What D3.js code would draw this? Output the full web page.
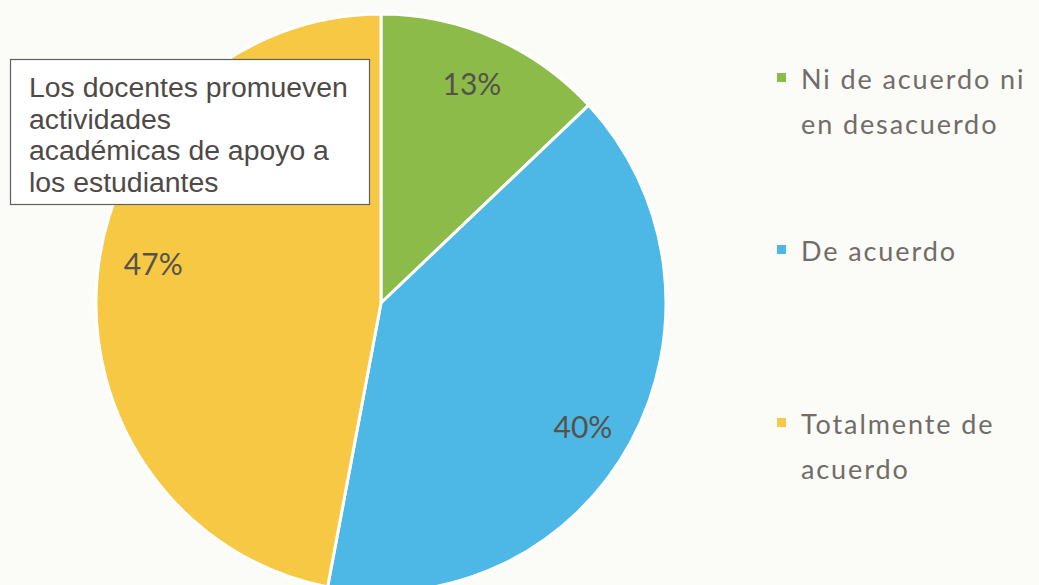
<!DOCTYPE html>
<html>
<head>
<meta charset="utf-8">
<script src="https://cdn.jsdelivr.net/npm/d3@7"></script>
<style>
  html, body { margin: 0; padding: 0; background: #fbfbf8; }
  svg { display: block; }
</style>
</head>
<body>
<svg id="chart" width="1039" height="585"></svg>
<script>
// Survey response shares
const categories = ["Ni de acuerdo ni en desacuerdo", "De acuerdo", "Totalmente de acuerdo"];
const values = [13, 40, 47];
const legendLines = [["Ni de acuerdo ni", "en desacuerdo"], ["De acuerdo"], ["Totalmente de", "acuerdo"]];
const colors = ["#8dbb4a", "#4db8e6", "#f6c844"];
const titleLines = ["Los docentes promueven", "actividades", "académicas de apoyo a", "los estudiantes"];

const svg = d3.select("#chart");
const cx = 381, cy = 303, rx = 285, ry = 289;
const r = rx;

const pie = d3.pie().sort(null).value(d => d)(values);
const arc = d3.arc().innerRadius(0).outerRadius(r);

const g = svg.append("g").attr("transform", `translate(${cx},${cy}) scale(1,${ry / rx})`);
g.selectAll("path.slice")
  .data(pie)
  .join("path")
  .attr("class", "slice")
  .attr("d", arc)
  .attr("fill", (d, i) => colors[i])
  .attr("stroke", "#ffffff")
  .attr("stroke-width", 3)
  .attr("stroke-linejoin", "round");

// percentage labels placed near each slice's bisector
const labelRadius = [0.82, 0.83, 0.81];
const labelShift = [-0.5, 2.6, 4.0].map(a => a * Math.PI / 180);
const lg = svg.append("g").attr("transform", `translate(${cx},${cy})`);
lg.selectAll("text.pct")
  .data(pie)
  .join("text")
  .attr("class", "pct")
  .attr("transform", (d, i) => {
    const a = (d.startAngle + d.endAngle) / 2 + labelShift[i];
    const rr = labelRadius[i];
    return `translate(${Math.sin(a) * rx * rr},${-Math.cos(a) * ry * rr - 2})`;
  })
  .attr("text-anchor", "middle")
  .attr("dominant-baseline", "central")
  .attr("font-family", "Lato, 'Open Sans', sans-serif")
  .attr("font-size", 30)
  .attr("fill", "#55524a")
  .text(d => d.data + "%");

// title box
const box = svg.append("g");
box.append("rect")
  .attr("x", 10.5).attr("y", 59.5)
  .attr("width", 359).attr("height", 145)
  .attr("fill", "#ffffff")
  .attr("stroke", "#5f5f5f")
  .attr("stroke-width", 1.2);
box.selectAll("text")
  .data(titleLines)
  .join("text")
  .attr("x", 29)
  .attr("y", (d, i) => 97 + i * 31.5)
  .attr("font-family", "'Liberation Sans', Arial, sans-serif")
  .attr("font-size", 28.4)
  .attr("fill", "#4f4a47")
  .text(d => d);

// legend
const legendY = [89, 261, 434];
const leg = svg.append("g");
categories.forEach((c, i) => {
  leg.append("rect")
    .attr("x", 777).attr("y", legendY[i] - 16)
    .attr("width", 9).attr("height", 9)
    .attr("fill", colors[i]);
  leg.append("text")
    .attr("x", 801)
    .attr("y", legendY[i])
    .attr("font-family", "Lato, 'Open Sans', sans-serif")
    .attr("font-size", 27)
    .attr("letter-spacing", 1.9)
    .attr("fill", "#716c68")
    .selectAll("tspan")
    .data(legendLines[i])
    .join("tspan")
    .attr("x", 801)
    .attr("dy", (d, j) => j === 0 ? 0 : 45)
    .text(d => d);
});
</script>
</body>
</html>
